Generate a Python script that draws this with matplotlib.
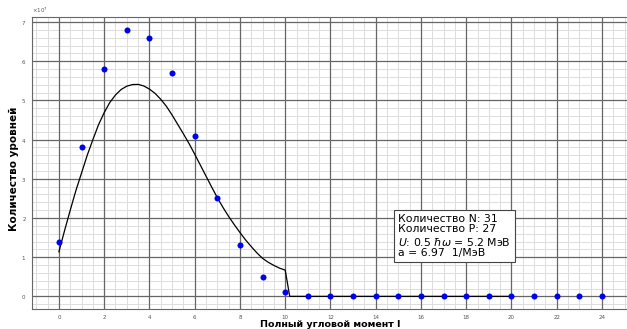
import matplotlib
matplotlib.use("Agg")
import matplotlib.pyplot as plt
from matplotlib.ticker import AutoMinorLocator, MultipleLocator, ScalarFormatter

# ---- data ----
spin_exp = list(range(0, 25))
levels_exp = [1.4e7, 3.8e7, 5.8e7, 6.8e7, 6.6e7, 5.7e7, 4.1e7, 2.5e7, 1.3e7, 0.5e7,
              0.1e7, 0, 0, 0, 0, 0, 0, 0, 0, 0, 0, 0, 0, 0, 0]

spin_fit = [0.0, 0.25, 0.5, 0.75, 1.0, 1.25, 1.5, 1.75, 2.0, 2.25, 2.5, 2.75, 3.0,
            3.25, 3.5, 3.75, 4.0, 4.25, 4.5, 4.75, 5.0, 5.25, 5.5, 5.75, 6.0, 6.25,
            6.5, 6.75, 7.0, 7.25, 7.5, 7.75, 8.0, 8.25, 8.5, 8.75, 9.0, 9.25, 9.5,
            9.75, 10.0, 10.2, 20.0]
levels_fit = [1.14e7, 1.68e7, 2.2e7, 2.7e7, 3.15e7, 3.6e7, 4.0e7, 4.38e7, 4.69e7,
              4.95e7, 5.14e7, 5.28e7, 5.365e7, 5.405e7, 5.41e7, 5.37e7, 5.29e7, 5.18e7,
              5.03e7, 4.85e7, 4.63e7, 4.39e7, 4.15e7, 3.90e7, 3.63e7, 3.35e7, 3.07e7,
              2.79e7, 2.52e7, 2.27e7, 2.04e7, 1.83e7, 1.63e7, 1.44e7, 1.27e7, 1.11e7,
              0.97e7, 0.87e7, 0.79e7, 0.72e7, 0.67e7, 0.0, 0.0]

info_lines = ["Количество N: 31",
              "Количество P: 27",
              r"$U$: 0.5 $\hbar\omega$ = 5.2 МэВ",
              "a = 6.97  1/МэВ"]

xlabel = "Полный угловой момент I"
ylabel = "Количество уровней"

# ---- figure ----
W, H = 627, 329
fig = plt.figure(figsize=(W / 100, H / 100), dpi=100)
pos = [32 / W, 1 - 309.3 / H, (628 - 32) / W, (309.3 - 17) / H]

# background axes: minor grid only
ax_bg = fig.add_axes(pos, zorder=0)
# front axes: major grid, data, labels
ax = fig.add_axes(pos, zorder=1, sharex=ax_bg, sharey=ax_bg)
ax.patch.set_visible(False)

ax.plot(spin_fit, levels_fit, color="black", lw=0.9, zorder=3)
ax.scatter(spin_exp, levels_exp, s=19, color="#0000f0", zorder=4, linewidths=0)

ax.set_xlim(-1.19, 25.15)
ax.set_ylim(-0.33e7, 7.13e7)

for a in (ax, ax_bg):
    a.xaxis.set_major_locator(MultipleLocator(2))
    a.yaxis.set_major_locator(MultipleLocator(1e7))
    a.xaxis.set_minor_locator(AutoMinorLocator(4))
    a.yaxis.set_minor_locator(AutoMinorLocator(5))

fmt = ScalarFormatter(useMathText=True)
fmt.set_powerlimits((0, 0))
ax.yaxis.set_major_formatter(fmt)
ax.yaxis.get_offset_text().set_fontsize(4)
ax.yaxis.get_offset_text().set_color("#666666")

ax_bg.grid(which="minor", color="#dddddd", lw=0.7)
ax_bg.tick_params(which="both", length=0, labelleft=False, labelbottom=False)
ax_bg.yaxis.get_offset_text().set_visible(False)
for sp in ax_bg.spines.values():
    sp.set_visible(False)

ax.grid(which="major", color="#666666", lw=0.9, zorder=1)
ax.set_axisbelow(True)
ax.tick_params(which="both", length=0, labelsize=4, labelcolor="#555555", pad=4)

for sp in ax.spines.values():
    sp.set_color("#666666")
    sp.set_linewidth(0.8)
ax.spines["right"].set_visible(False)

ax.set_xlabel(xlabel, fontsize=6.8, fontweight="bold", labelpad=0)
ax.set_ylabel(ylabel, fontsize=7.5, fontweight="bold")
ax.yaxis.set_label_coords((19.5 - 32) / (628 - 32), 0.48)

fig.text(398 / W, 1 - 236 / H, "\n".join(info_lines), fontsize=7.8,
         ha="left", va="center", linespacing=1.1,
         bbox=dict(boxstyle="square,pad=0.35", facecolor="white",
                   edgecolor="#444444", linewidth=0.8), zorder=5)

fig.savefig("out.png", dpi=100)
